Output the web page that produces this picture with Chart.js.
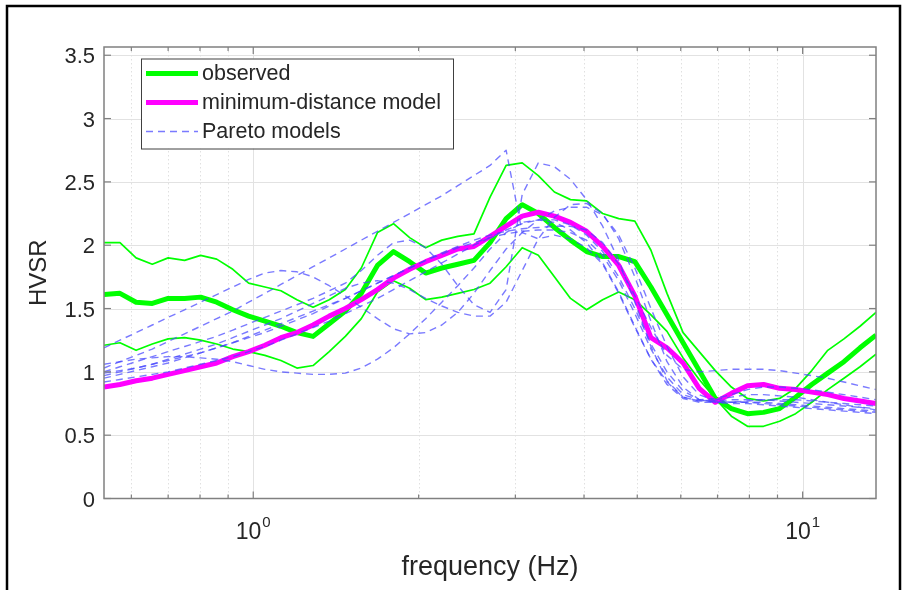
<!DOCTYPE html>
<html><head><meta charset="utf-8">
<script src="https://cdn.jsdelivr.net/npm/chart.js@4.4.0/dist/chart.umd.min.js"></script>
<style>html,body{margin:0;padding:0;background:#fff;overflow:hidden}</style>
</head><body>
<canvas id="c" width="904" height="590"></canvas>
<script>
// ---------- data ----------
const frequency = [0.535,0.572,0.612,0.655,0.700,0.750,0.802,0.858,0.918,0.981,
  1.050,1.123,1.201,1.285,1.375,1.471,1.573,1.683,1.800,1.926,
  2.060,2.204,2.357,2.522,2.698,2.886,3.087,3.303,3.533,3.780,
  4.043,4.325,4.627,4.950,5.295,5.664,6.059,6.482,6.934,7.418,
  7.935,8.488,9.080,9.710,10.39,11.11,11.89,12.72,13.60];

const observedMean = [1.61,1.62,1.55,1.54,1.58,1.58,1.59,1.55,1.49,1.44,
  1.40,1.36,1.31,1.28,1.38,1.48,1.62,1.84,1.95,1.87,
  1.78,1.82,1.85,1.88,2.02,2.21,2.32,2.25,2.14,2.04,
  1.95,1.91,1.91,1.87,1.67,1.45,1.23,1.01,0.79,0.71,
  0.67,0.68,0.71,0.80,0.90,0.99,1.08,1.19,1.29];
const observedUpper = [2.02,2.02,1.90,1.85,1.90,1.88,1.92,1.89,1.81,1.70,
  1.67,1.64,1.57,1.51,1.57,1.65,1.82,2.10,2.17,2.06,
  1.98,2.04,2.07,2.09,2.38,2.63,2.65,2.55,2.42,2.36,
  2.35,2.25,2.21,2.19,1.96,1.62,1.31,1.16,1.01,0.88,
  0.79,0.77,0.79,0.87,1.01,1.17,1.26,1.36,1.47];
const observedLower = [1.21,1.23,1.17,1.22,1.26,1.27,1.25,1.22,1.18,1.16,
  1.13,1.09,1.03,1.05,1.16,1.28,1.42,1.63,1.72,1.66,
  1.57,1.59,1.62,1.65,1.70,1.83,1.98,1.92,1.75,1.58,
  1.49,1.57,1.63,1.57,1.45,1.32,1.11,0.94,0.79,0.65,
  0.57,0.57,0.61,0.67,0.76,0.86,0.95,1.04,1.14];
const minDistanceModel = [0.88,0.90,0.93,0.95,0.98,1.01,1.04,1.07,1.12,1.16,
  1.21,1.27,1.31,1.37,1.44,1.50,1.57,1.65,1.74,1.81,
  1.87,1.92,1.97,1.99,2.07,2.15,2.23,2.26,2.23,2.18,
  2.11,1.99,1.84,1.60,1.27,1.19,1.07,0.87,0.76,0.83,
  0.89,0.90,0.87,0.86,0.84,0.82,0.79,0.77,0.75];

const paretoModel1 = [1.19,1.25,1.31,1.37,1.43,1.49,1.55,1.61,1.67,1.73,
  1.78,1.80,1.79,1.75,1.68,1.60,1.51,1.42,1.34,1.30,
  1.31,1.37,1.47,1.62,1.80,1.97,2.10,2.20,2.27,2.30,
  2.30,2.24,2.08,1.82,1.50,1.20,0.96,0.82,0.77,0.76,
  0.77,0.78,0.78,0.78,0.77,0.76,0.75,0.74,0.73];
const paretoModel2 = [1.03,1.08,1.13,1.18,1.24,1.30,1.36,1.42,1.48,1.55,
  1.62,1.69,1.76,1.83,1.90,1.97,2.04,2.11,2.18,2.25,
  2.32,2.39,2.47,2.55,2.63,2.75,2.10,2.05,2.08,2.05,
  1.98,1.85,1.62,1.35,1.10,0.92,0.80,0.77,0.77,0.78,
  0.78,0.78,0.77,0.76,0.75,0.74,0.73,0.72,0.71];
const paretoModel3 = [1.00,1.04,1.08,1.12,1.16,1.20,1.24,1.28,1.33,1.38,
  1.43,1.48,1.53,1.58,1.64,1.70,1.80,1.92,2.02,2.04,
  1.98,1.85,1.68,1.53,1.47,1.65,2.40,2.65,2.62,2.52,
  2.36,2.15,1.88,1.55,1.20,0.93,0.80,0.77,0.78,0.80,
  0.82,0.82,0.81,0.80,0.78,0.76,0.74,0.72,0.70];
const paretoModel4 = [1.06,1.08,1.10,1.11,1.12,1.12,1.11,1.10,1.08,1.05,
  1.02,1.00,0.99,0.98,0.98,0.99,1.03,1.10,1.19,1.30,
  1.42,1.55,1.68,1.82,1.97,2.10,2.18,2.20,2.18,2.12,
  2.02,1.86,1.63,1.36,1.10,0.90,0.79,0.76,0.76,0.76,
  0.76,0.75,0.74,0.73,0.72,0.71,0.70,0.69,0.68];
const paretoModel5 = [0.97,1.00,1.03,1.06,1.10,1.14,1.18,1.22,1.27,1.32,
  1.37,1.42,1.48,1.54,1.60,1.66,1.70,1.72,1.70,1.65,
  1.58,1.52,1.47,1.44,1.44,1.55,1.80,2.05,2.22,2.32,
  2.33,2.25,2.05,1.75,1.40,1.08,0.88,0.78,0.76,0.76,
  0.76,0.76,0.75,0.74,0.73,0.72,0.71,0.70,0.69];
const paretoModel6 = [0.95,0.98,1.01,1.04,1.07,1.11,1.15,1.19,1.23,1.28,
  1.33,1.38,1.43,1.48,1.53,1.58,1.64,1.70,1.76,1.82,
  1.88,1.94,1.99,2.04,2.08,2.11,2.13,2.14,2.15,2.15,
  2.12,2.02,1.85,1.60,1.35,1.13,1.02,1.00,1.01,1.02,
  1.02,1.02,1.01,0.99,0.97,0.95,0.92,0.89,0.86];
const paretoModel7 = [0.92,0.94,0.96,0.98,1.00,1.03,1.06,1.09,1.12,1.16,
  1.20,1.25,1.30,1.35,1.40,1.46,1.52,1.58,1.65,1.72,
  1.79,1.86,1.93,2.00,2.06,2.12,2.17,2.20,2.20,2.16,
  2.08,1.95,1.75,1.50,1.22,1.00,0.85,0.78,0.76,0.75,
  0.75,0.74,0.73,0.72,0.71,0.70,0.69,0.68,0.67];
const paretoModel8 = [0.99,1.01,1.03,1.06,1.09,1.12,1.15,1.19,1.23,1.27,
  1.31,1.36,1.41,1.46,1.52,1.58,1.64,1.70,1.76,1.82,
  1.88,1.93,1.98,2.02,2.06,2.09,2.11,2.12,2.12,2.10,
  2.04,1.92,1.72,1.46,1.18,0.96,0.82,0.78,0.79,0.82,
  0.86,0.88,0.88,0.87,0.86,0.84,0.82,0.80,0.78];
const paretoModels = [paretoModel1,paretoModel2,paretoModel3,paretoModel4,
  paretoModel5,paretoModel6,paretoModel7,paretoModel8];

const yTickValues = [0,0.5,1,1.5,2,2.5,3,3.5];
const yTickLabels = ['0','0.5','1','1.5','2','2.5','3','3.5'];
const xMajorTicks = [1,10];
const xMajorExponents = ['0','1'];
const xMinorTicks = [0.6,0.7,0.8,0.9,2,3,4,5,6,7,8,9];
const legendLabels = ['observed','minimum-distance model','Pareto models'];
const xAxisTitle = 'frequency (Hz)';
const yAxisTitle = 'HVSR';

// ---------- styles ----------
const GREEN = '#00ff00', MAGENTA = '#ff00ff', BLUE = 'rgba(70,70,255,0.72)';
const FONT = '"Liberation Sans", Arial, Helvetica, sans-serif';
const TEXT = '#262626';
const pts = arr => frequency.map((f,i)=>({x:f,y:arr[i]}));

const datasets = [];
paretoModels.forEach((m,i)=>datasets.push({label:'Pareto '+(i+1),data:pts(m),borderColor:BLUE,
  borderWidth:1.4,borderDash:[7,5],order:1}));
datasets.push({label:'minimum-distance model',data:pts(minDistanceModel),borderColor:MAGENTA,borderWidth:5,order:2});
datasets.push({label:'observed',data:pts(observedMean),borderColor:GREEN,borderWidth:5,order:3});
datasets.push({label:'observed +',data:pts(observedUpper),borderColor:GREEN,borderWidth:1.7,order:4});
datasets.push({label:'observed -',data:pts(observedLower),borderColor:GREEN,borderWidth:1.7,order:4});
datasets.forEach(d=>{d.pointRadius=0;d.fill=false;d.tension=0;d.borderJoinStyle='round';d.borderCapStyle='butt';});

const decor = {
  id:'decor',
  beforeDatasetsDraw(chart){
    const {ctx, chartArea:a, scales:{x,y}} = chart;
    ctx.save();
    ctx.lineWidth = 1;
    ctx.strokeStyle = '#e2e2e2';
    yTickValues.forEach(v=>{ if(v===0) return; const py=Math.round(y.getPixelForValue(v))+0.5;
      ctx.beginPath(); ctx.moveTo(a.left,py); ctx.lineTo(a.right,py); ctx.stroke(); });
    xMajorTicks.forEach(v=>{ const px=Math.round(x.getPixelForValue(v))+0.5;
      ctx.beginPath(); ctx.moveTo(px,a.top); ctx.lineTo(px,a.bottom); ctx.stroke(); });
    ctx.strokeStyle = '#e0e0e0'; ctx.setLineDash([1.5,2.5]);
    xMinorTicks.forEach(v=>{ const px=Math.round(x.getPixelForValue(v))+0.5;
      ctx.beginPath(); ctx.moveTo(px,a.top); ctx.lineTo(px,a.bottom); ctx.stroke(); });
    ctx.restore();
  },
  afterDatasetsDraw(chart){
    const {ctx, chartArea:a, scales:{x,y}} = chart;
    ctx.save();
    ctx.strokeStyle = '#808080'; ctx.lineWidth = 1.5;
    ctx.strokeRect(a.left, a.top, a.right-a.left, a.bottom-a.top);
    ctx.lineWidth = 1.2; ctx.strokeStyle = '#808080';
    const tick = (x1,y1,x2,y2)=>{ctx.beginPath();ctx.moveTo(x1,y1);ctx.lineTo(x2,y2);ctx.stroke();};
    xMajorTicks.forEach(v=>{const px=x.getPixelForValue(v); tick(px,a.bottom,px,a.bottom-7); tick(px,a.top,px,a.top+7);});
    xMinorTicks.forEach(v=>{const px=x.getPixelForValue(v); tick(px,a.bottom,px,a.bottom-4); tick(px,a.top,px,a.top+4);});
    yTickValues.forEach(v=>{const py=y.getPixelForValue(v); tick(a.left,py,a.left+7,py); tick(a.right,py,a.right-7,py);});
    ctx.fillStyle = TEXT; ctx.textBaseline = 'alphabetic';
    xMajorTicks.forEach((v,i)=>{
      const px = x.getPixelForValue(v);
      ctx.font = '23px '+FONT; const w1 = ctx.measureText('10').width;
      ctx.font = '15px '+FONT; const w2 = ctx.measureText(xMajorExponents[i]).width;
      const x0 = px - (w1+w2+1)/2;
      ctx.font = '23px '+FONT; ctx.textAlign='left'; ctx.fillText('10', x0, 539);
      ctx.font = '15px '+FONT; ctx.fillText(xMajorExponents[i], x0+w1+1, 527);
    });
    ctx.font = '27px '+FONT; ctx.textAlign='center';
    ctx.fillText(xAxisTitle, (a.left+a.right)/2, 575);
    ctx.font = '24px '+FONT;
    ctx.save(); ctx.translate(46, (a.top+a.bottom)/2); ctx.rotate(-Math.PI/2);
    ctx.fillText(yAxisTitle, 0, 0); ctx.restore();
    const lx=141, ly=58.5, lw=312, lh=90;
    ctx.fillStyle='#fff'; ctx.fillRect(lx,ly,lw,lh);
    ctx.strokeStyle='#404040'; ctx.lineWidth=1; ctx.strokeRect(lx+0.5,ly+0.5,lw,lh);
    const rows=[73.5,102.5,131.5];
    const styles=[{c:GREEN,w:5,d:[]},{c:MAGENTA,w:5,d:[]},{c:BLUE,w:1.4,d:[7,5]}];
    rows.forEach((ry,i)=>{
      ctx.strokeStyle=styles[i].c; ctx.lineWidth=styles[i].w; ctx.setLineDash(styles[i].d);
      tick(146,ry,198,ry);
      ctx.setLineDash([]);
      ctx.fillStyle=TEXT; ctx.font='21.5px '+FONT; ctx.textAlign='left'; ctx.textBaseline='middle';
      ctx.fillText(legendLabels[i], 202, ry+1);
    });
    ctx.restore();
    ctx.save(); ctx.strokeStyle='#000'; ctx.lineWidth=2.5;
    ctx.beginPath(); ctx.moveTo(7,600); ctx.lineTo(7,6); ctx.lineTo(900,6); ctx.lineTo(900,600); ctx.stroke();
    ctx.restore();
  }
};

new Chart(document.getElementById('c'), {
  type:'line',
  data:{datasets},
  plugins:[decor],
  options:{
    responsive:false, animation:false, devicePixelRatio:1,
    layout:{padding:{left:0,top:47,right:28,bottom:91.5}},
    plugins:{legend:{display:false},tooltip:{enabled:false}},
    scales:{
      x:{type:'logarithmic',min:0.535,max:13.6,display:false},
      y:{min:0,max:3.565,
        afterBuildTicks:s=>{s.ticks=yTickValues.map(v=>({value:v}));},
        afterFit:s=>{s.width=104;},
        grid:{display:false,drawTicks:false},border:{display:false},
        ticks:{padding:9,labelOffset:2,color:TEXT,font:{family:FONT,size:22},
          callback:v=>yTickLabels[yTickValues.indexOf(v)]}}
    }
  }
});
</script>
</body></html>
